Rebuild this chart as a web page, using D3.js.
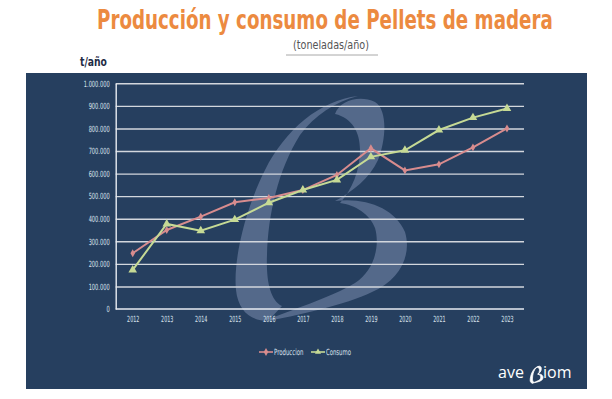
<!DOCTYPE html>
<html lang="es">
<head>
<meta charset="UTF-8">
<title>Producción y consumo de Pellets de madera</title>
<script src="https://cdnjs.cloudflare.com/ajax/libs/d3/7.8.5/d3.min.js"></script>
<style>
    body { margin: 0; background: #fff; }
    .tick-label { font-family: "DejaVu Sans", sans-serif; font-size: 8.5px; fill: #dbe3ee; }
    .grid line { stroke: #d3d7dd; stroke-width: 1.4; }
</style>
</head>
<body>
<div id="chart"></div>
<script>
    // Data (t/año)
    const years = ["2012", "2013", "2014", "2015", "2016", "2017", "2018", "2019", "2020", "2021", "2022", "2023"];
    const produccion = [247000, 350000, 409000, 473000, 492000, 527000, 594000, 712000, 614000, 641000, 716000, 800000];
    const consumo = [173000, 377000, 347000, 396000, 471000, 527000, 572000, 674000, 703000, 793000, 848000, 888000];
    const yTicks = [0, 100000, 200000, 300000, 400000, 500000, 600000, 700000, 800000, 900000, 1000000];
    const seriesNames = ["Produccion", "Consumo"];

    const W = 612, H = 399;
    const plot = {left: 115.7, right: 524, top: 83.3, bottom: 309};
    const colProd = "#d88c8e", colCons = "#c6da95";

    const svg = d3.select("#chart").append("svg")
        .attr("width", W).attr("height", H);

    // squeeze a text horizontally around its anchor point (fake condensed font)
    function condense(sel, k) {
        sel.each(function() {
            const t = d3.select(this);
            const tx = +t.attr("x") || 0, ty = +t.attr("y") || 0;
            t.attr("x", 0).attr("y", 0)
                .attr("transform", `translate(${tx},${ty}) scale(${k},1)`);
        });
    }
    // squeeze a text so that it is exactly w pixels wide
    function fitWidth(sel, w) {
        const k = w / sel.node().getComputedTextLength();
        condense(sel, k);
    }

    const condFont = "'DejaVu Sans', sans-serif";

    // Title block
    const title = svg.append("text")
        .attr("x", 97).attr("y", 29)
        .style("font-family", condFont)
        .style("font-weight", "bold").style("font-size", "26.5px")
        .style("fill", "#ec8a40")
        .text("Producción y consumo de Pellets de madera");
    fitWidth(title, 456);

    const sub = svg.append("text")
        .attr("x", 293).attr("y", 49)
        .style("font-family", condFont)
        .style("font-size", "12px").style("fill", "#555")
        .text("(toneladas/año)");
    fitWidth(sub, 76);

    svg.append("line")
        .attr("x1", 286).attr("x2", 378).attr("y1", 55).attr("y2", 55)
        .style("stroke", "#a8a8a8").style("stroke-width", 1);

    const unit = svg.append("text")
        .attr("x", 80).attr("y", 66)
        .style("font-family", condFont)
        .style("font-weight", "bold").style("font-size", "13px").style("fill", "#1e2c45")
        .text("t/año");
    fitWidth(unit, 27);

    // Dark panel
    svg.append("rect")
        .attr("x", 26).attr("y", 73).attr("width", 561).attr("height", 316)
        .style("fill", "#263f5f");

    // Watermark "B"
    const bPath = "M358,96 C320,100 285,130 265,170 C245,210 233,260 236,290 C238,310 250,321 268,321 " +
        "L282,306 C270,300 266,280 267,255 C268,215 278,170 300,135 C315,115 335,102 358,96 Z " +
        "M335,114 C340,100 360,95 375,102 C388,110 386,140 378,160 C370,178 352,192 335,201 " +
        "C365,197 395,208 405,232 C412,255 400,280 372,292 C345,305 300,315 262,322 " +
        "C290,310 330,298 355,283 C375,270 380,245 375,228 C370,214 355,205 340,203 " +
        "C352,190 360,170 360,150 C360,132 352,118 335,114 Z";

    svg.append("path")
        .attr("d", bPath)
        .style("fill", "#54698a");

    // Scales
    const x = d3.scalePoint().domain(years).range([plot.left, plot.right]).padding(0.5);
    const y = d3.scaleLinear().domain([0, 1000000]).range([plot.bottom, plot.top]);

    const es = d3.formatLocale({decimal: ",", thousands: ".", grouping: [3], currency: ["", " €"]});
    const fmt = es.format(",d");

    // Grid
    svg.append("g")
        .attr("class", "grid")
        .attr("transform", `translate(${plot.left},0)`)
        .call(d3.axisLeft(y).tickValues(yTicks.slice(1)).tickSize(-(plot.right - plot.left)).tickFormat(""))
        .call(g => g.select(".domain").remove());

    // Y axis
    const yAxis = svg.append("g")
        .attr("transform", `translate(${plot.left},0)`)
        .call(d3.axisLeft(y).tickValues(yTicks).tickSize(0).tickPadding(6).tickFormat(fmt));
    yAxis.select(".domain").style("stroke", "#e8ecf2").style("stroke-width", 1.4);
    yAxis.selectAll("text").attr("class", "tick-label").attr("font-size", null).attr("font-family", null)
        .call(condense, 0.6);

    // X axis
    const xAxis = svg.append("g")
        .attr("transform", `translate(0,${plot.bottom})`)
        .call(d3.axisBottom(x).tickSize(0).tickPadding(6.5));
    xAxis.select(".domain").attr("d", `M${plot.left},0H${plot.right}`)
        .style("stroke", "#e8ecf2").style("stroke-width", 1.4);
    xAxis.selectAll("text").attr("class", "tick-label").attr("font-size", null).attr("font-family", null)
        .call(condense, 0.57);

    const line = d3.line().x((d, i) => x(years[i])).y(d => y(d));

    const diamond = d3.symbol().type(d3.symbolDiamond).size(18);
    const triangle = d3.symbol().type(d3.symbolTriangle).size(32);

    // Produccion
    svg.append("path").datum(produccion)
        .attr("d", line)
        .style("fill", "none").style("stroke", colProd).style("stroke-width", 2);
    svg.selectAll(".mk-prod").data(produccion).enter().append("path")
        .attr("class", "mk-prod")
        .attr("transform", (d, i) => `translate(${x(years[i])},${y(d)})`)
        .attr("d", diamond)
        .style("fill", colProd);

    // Consumo
    svg.append("path").datum(consumo)
        .attr("d", line)
        .style("fill", "none").style("stroke", colCons).style("stroke-width", 2);
    svg.selectAll(".mk-cons").data(consumo).enter().append("path")
        .attr("class", "mk-cons")
        .attr("transform", (d, i) => `translate(${x(years[i])},${y(d)})`)
        .attr("d", triangle)
        .style("fill", colCons);

    // Legend
    const legend = svg.append("g").attr("transform", "translate(259,352)");
    const legendItems = [
        {name: seriesNames[0], color: colProd, sym: diamond, dx: 0, w: 29.5},
        {name: seriesNames[1], color: colCons, sym: d3.symbol().type(d3.symbolTriangle).size(16), dx: 52, w: 25}
    ];
    legendItems.forEach(it => {
        const g = legend.append("g").attr("transform", `translate(${it.dx},0)`);
        g.append("line").attr("x1", 0).attr("x2", 14).attr("y1", 0).attr("y2", 0)
            .style("stroke", it.color).style("stroke-width", 1.6);
        g.append("path").attr("transform", "translate(7,0)").attr("d", it.sym).style("fill", it.color);
        const t = g.append("text").attr("class", "tick-label").attr("x", 15).attr("y", 3).text(it.name);
        fitWidth(t, it.w);
    });

    // Logo
    const logo = svg.append("g");
    logo.append("text")
        .attr("x", 498).attr("y", 378)
        .style("font-family", "'Open Sans', sans-serif").style("font-size", "16px")
        .style("fill", "#fff")
        .text("ave");
    logo.append("path")
        .attr("d", bPath)
        .attr("transform", "translate(512.5,359) scale(0.075)")
        .style("fill", "#fff").style("stroke", "#fff").style("stroke-width", 10);
    logo.append("text")
        .attr("x", 543).attr("y", 378)
        .style("font-family", "'Open Sans', sans-serif").style("font-size", "16px")
        .style("fill", "#fff")
        .text("iom");
</script>
</body>
</html>
